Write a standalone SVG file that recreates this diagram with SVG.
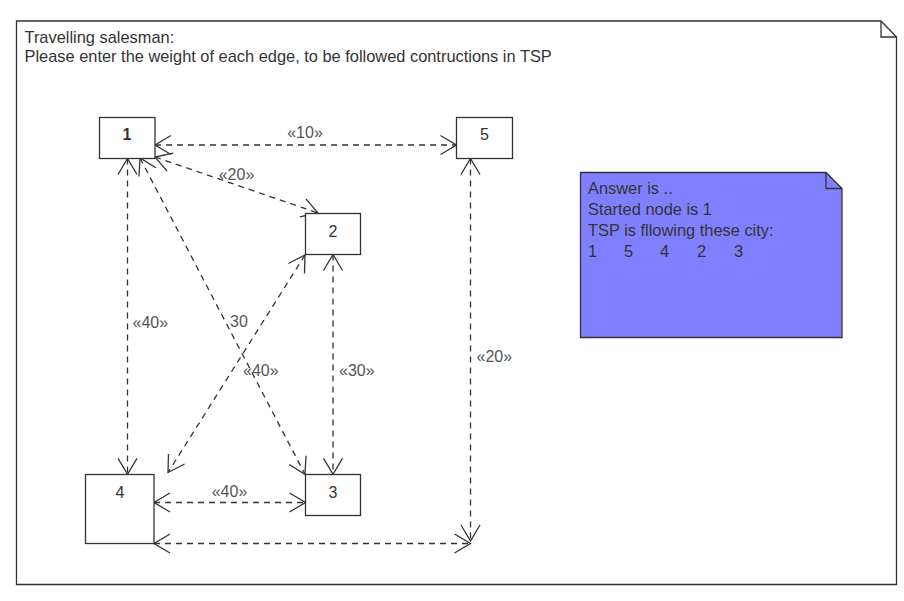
<svg xmlns="http://www.w3.org/2000/svg" width="904" height="601" viewBox="0 0 904 601">
<style>
text{font-family:"Liberation Sans",Arial,sans-serif;font-size:16px;fill:#333}
.big{font-size:16.4px}
.box{fill:#fff;stroke:#333;stroke-width:1.3}
.lbl{text-anchor:middle}
.el{fill:#555}
.edge{fill:none;stroke:#333;stroke-width:1.3;stroke-dasharray:6 5;marker-start:url(#arr);marker-end:url(#arr)}
</style>
<defs>
<marker id="arr" viewBox="-18 -11 20 22" refX="0" refY="0" markerWidth="20" markerHeight="22" markerUnits="userSpaceOnUse" orient="auto-start-reverse">
<path d="M-16,-9.5 L0,0 L-16,9.5" fill="none" stroke="#333" stroke-width="1.3"/>
</marker>
</defs>
<rect width="904" height="601" fill="#fff"/>
<g id="frame">
<path d="M16.5,21 H881 L896.5,37 V584.5 H16.5 Z" fill="#fff" stroke="#333" stroke-width="1.3"/>
<path d="M881,21 V37 H896.5" fill="none" stroke="#333" stroke-width="1.3"/>
<text class="big" x="24.5" y="43">Travelling salesman:</text>
<text class="big" x="24.5" y="62">Please enter the weight of each edge, to be followed contructions in TSP</text>
</g>
<g id="connectors">
<line class="edge" x1="155" y1="145" x2="456.5" y2="145"/>
<line class="edge" x1="155" y1="157" x2="318" y2="213"/>
<line class="edge" x1="127.5" y1="158.5" x2="127.5" y2="474.3"/>
<line class="edge" x1="140" y1="158" x2="305" y2="474.3"/>
<line class="edge" x1="305" y1="255" x2="168" y2="472.5"/>
<line class="edge" x1="333" y1="254.5" x2="333" y2="474.3"/>
<line class="edge" x1="154" y1="502.5" x2="305.5" y2="502.5"/>
<line class="edge" x1="470.5" y1="158.5" x2="470.5" y2="541"/>
<line class="edge" x1="154" y1="543.5" x2="470.5" y2="543.5"/>
<text class="el lbl" x="305" y="138">«10»</text>
<text class="el lbl" x="236.5" y="180">«20»</text>
<text class="el" x="132.5" y="328">«40»</text>
<text class="el lbl" x="239" y="327">30</text>
<text class="el" x="243" y="376">«40»</text>
<text class="el" x="339" y="376">«30»</text>
<text class="el" x="476.5" y="362">«20»</text>
<text class="el lbl" x="229.5" y="497">«40»</text>
</g>
<g id="node1">
<rect class="box" x="99.5" y="117.5" width="55.5" height="41"/>
<text class="lbl" x="127" y="140" font-weight="bold">1</text>
</g>
<g id="node5">
<rect class="box" x="456.5" y="117.5" width="56" height="41"/>
<text class="lbl" x="484.5" y="140">5</text>
</g>
<g id="node2">
<rect class="box" x="305.5" y="213.5" width="55" height="41"/>
<text class="lbl" x="333" y="236.5">2</text>
</g>
<g id="node4">
<rect class="box" x="85.5" y="474.5" width="68.5" height="69"/>
<text class="lbl" x="120" y="497.5">4</text>
</g>
<g id="node3">
<rect class="box" x="305.5" y="474.5" width="55" height="41"/>
<text class="lbl" x="333" y="497.5">3</text>
</g>
<g id="note">
<path d="M580.5,172.5 H826 L842,188.5 V337.5 H580.5 Z" fill="#8080ff" stroke="#333" stroke-width="1.3"/>
<path d="M826,172.5 V188.5 H842" fill="none" stroke="#333" stroke-width="1.3"/>
<text class="big" x="588" y="194" fill="#222">Answer is ..</text>
<text class="big" x="588" y="215" fill="#222">Started node is 1</text>
<text class="big" x="588" y="236" fill="#222">TSP is fllowing these city:</text>
<text class="big" y="257" fill="#222"><tspan x="588">1</tspan><tspan x="624">5</tspan><tspan x="660">4</tspan><tspan x="697">2</tspan><tspan x="734">3</tspan></text>
</g>
</svg>
